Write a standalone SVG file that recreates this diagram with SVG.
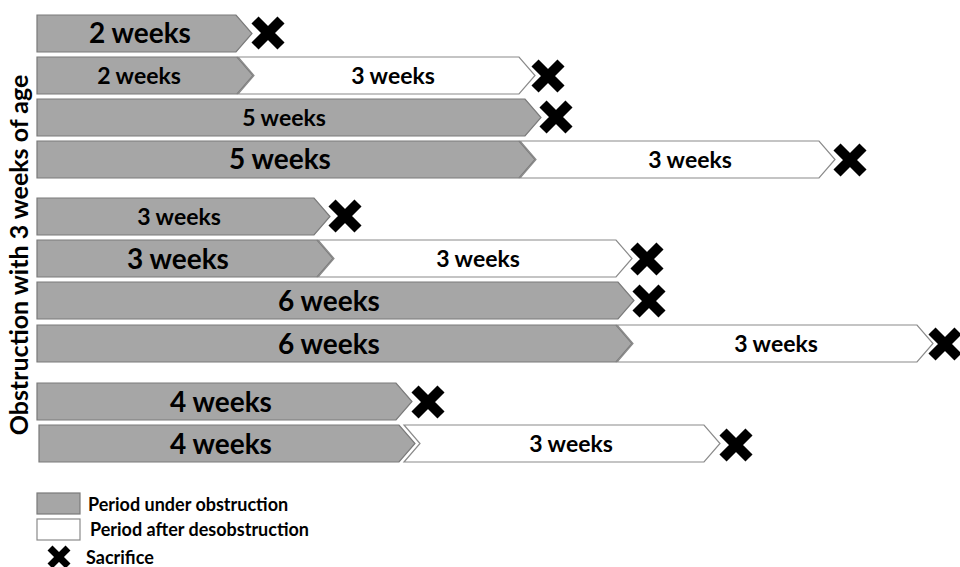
<svg xmlns="http://www.w3.org/2000/svg" width="960" height="567" viewBox="0 0 960 567">
<defs>
<style>
.g{fill:#a6a6a6;stroke:#7a7a7a;stroke-width:1.2}
.w{fill:#fff;stroke:#8a8a8a;stroke-width:1.2}
.t{font-family:Lato,"Open Sans",sans-serif;font-weight:bold;fill:#000;text-anchor:middle}
.L{font-size:28px}
.S{font-size:23px}
.lg{font-family:Lato,"Open Sans",sans-serif;font-weight:bold;font-size:18px;fill:#000}
</style>
<path id="x" d="M-13,-13L13,13M13,-13L-13,13" stroke="#000" stroke-width="10"/>
<path id="xs" d="M-9,-9L9,9M9,-9L-9,9" stroke="#000" stroke-width="7"/>
</defs>
<rect width="960" height="567" fill="#fff"/>
<text class="t" font-size="25" transform="translate(28,255) rotate(-90)">Obstruction with 3 weeks of age</text>
<g id="connectors"/>
<g id="row1"><polygon class="g" points="37,15 236,15 252,33.5 236,52 37,52"/><text class="t L" x="140" y="43">2 weeks</text><use href="#x" x="268" y="33"/></g>
<g id="row2"><polygon class="g" points="37,57 237,57 253,75.5 237,94 37,94"/><polygon class="w" points="238,57 519,57 535,75.5 519,94 238,94 254,75.5"/><text class="t S" x="139" y="84">2 weeks</text><text class="t S" x="393" y="84">3 weeks</text><use href="#x" x="548" y="76"/></g>
<g id="row3"><polygon class="g" points="37,99 525,99 541,117.5 525,136 37,136"/><text class="t S" x="284" y="126">5 weeks</text><use href="#x" x="556" y="117"/></g>
<g id="row4"><polygon class="g" points="37,141 519,141 535,159.5 519,178 37,178"/><polygon class="w" points="520,141 819,141 835,159.5 819,178 520,178 536,159.5"/><text class="t L" x="280" y="169">5 weeks</text><text class="t S" x="690" y="168">3 weeks</text><use href="#x" x="850" y="160"/></g>
<g id="row5"><polygon class="g" points="37,198 314,198 330,216.5 314,235 37,235"/><text class="t S" x="179" y="225">3 weeks</text><use href="#x" x="345" y="216"/></g>
<g id="row6"><polygon class="g" points="37,240 317,240 333,258.5 317,277 37,277"/><polygon class="w" points="318,240 616,240 632,258.5 616,277 318,277 334,258.5"/><text class="t L" x="178" y="269">3 weeks</text><text class="t S" x="478" y="267">3 weeks</text><use href="#x" x="647" y="259"/></g>
<g id="row7"><polygon class="g" points="37,282 618,282 634,300.5 618,319 37,319"/><text class="t L" x="329" y="311">6 weeks</text><use href="#x" x="649" y="301"/></g>
<g id="row8"><polygon class="g" points="37,325 616,325 632,343.5 616,362 37,362"/><polygon class="w" points="617,325 917,325 933,343.5 917,362 617,362 633,343.5"/><text class="t L" x="329" y="354">6 weeks</text><text class="t S" x="776" y="352">3 weeks</text><use href="#x" x="945" y="344"/></g>
<g id="row9"><polygon class="g" points="37,383 396,383 412,401.5 396,420 37,420"/><text class="t L" x="221" y="412">4 weeks</text><use href="#x" x="428" y="402"/></g>
<g id="row10"><polygon class="g" points="39,425 399,425 415,443.5 399,462 39,462"/><polygon class="w" points="404,425 704,425 720,443.5 704,462 404,462 420,443.5"/><text class="t L" x="221" y="454">4 weeks</text><text class="t S" x="571" y="452">3 weeks</text><use href="#x" x="736" y="445"/></g>
<g id="legend">
<rect class="g" x="37" y="493" width="43" height="21"/>
<text class="lg" x="88" y="511">Period under obstruction</text>
<rect class="w" x="37" y="519" width="43" height="21"/>
<text class="lg" x="90" y="536">Period after desobstruction</text>
<use href="#xs" x="59" y="557"/>
<text class="lg" x="86" y="564">Sacrifice</text>
</g>
</svg>
